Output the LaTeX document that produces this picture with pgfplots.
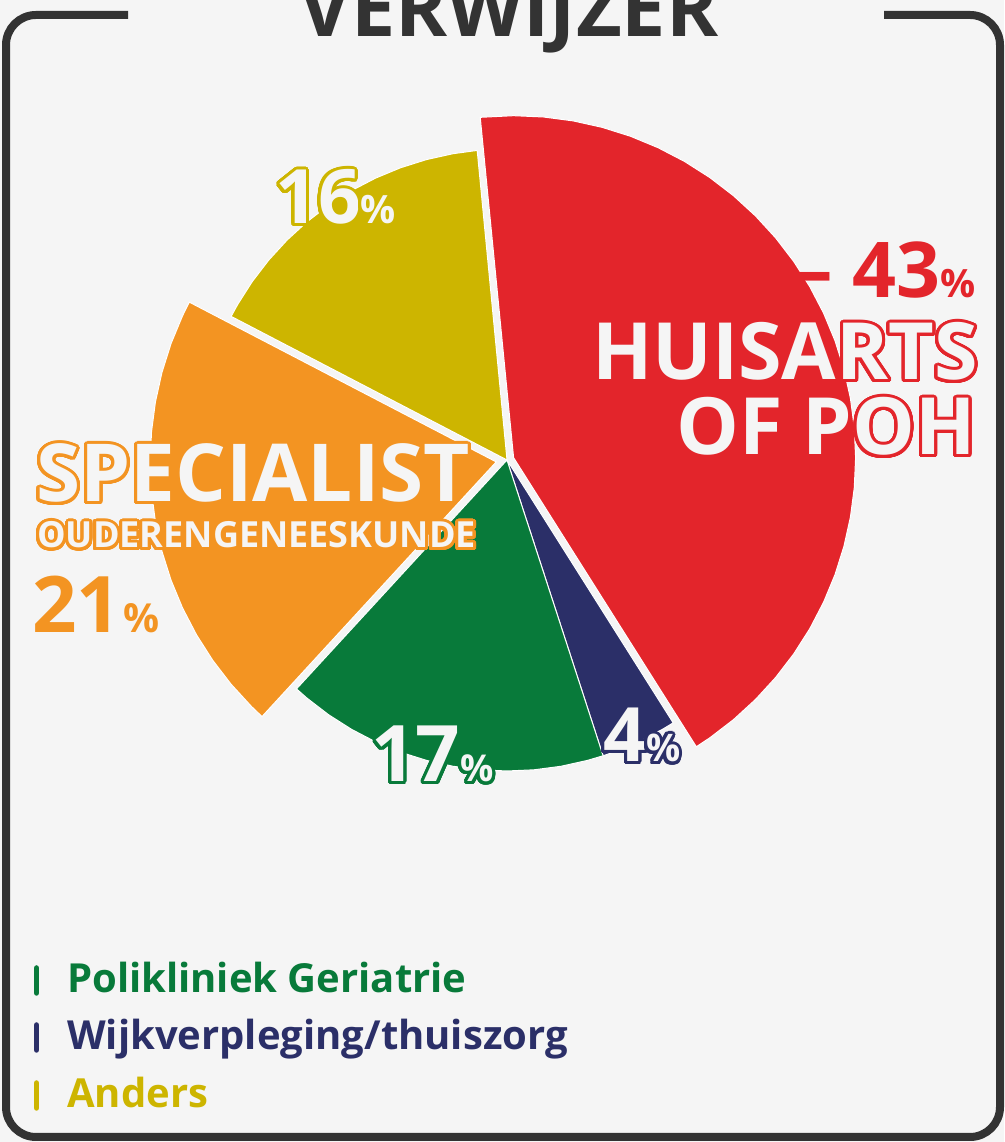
\documentclass[border=0pt]{standalone}
\usepackage{pgfplots}
\pgfplotsset{compat=1.18}
\usepackage{fontspec}
\setmainfont{Open Sans}
\usepackage{contour}
\contournumber{48}
\contourlength{3pt}
\definecolor{cred}{HTML}{E3252B}
\definecolor{cnavy}{HTML}{2B2F68}
\definecolor{cgreen}{HTML}{087A3A}
\definecolor{corange}{HTML}{F39422}
\definecolor{cyellow}{HTML}{CDB500}
\definecolor{bgc}{HTML}{F5F5F5}
\definecolor{frame}{HTML}{333333}
\newcommand{\fs}[1]{\fontsize{#1}{#1}\selectfont}
\begin{document}
\begin{tikzpicture}
\fill[bgc] (0,0) rectangle (1004pt,1142pt);
\begin{axis}[at={(0,0)}, anchor=south west, hide axis, x=1pt, y=1pt,
  xmin=-507, xmax=497, ymin=-682, ymax=460, clip=false]
% shares (%): Huisarts 43, Wijkverpleging 4, Polikliniek 17, Specialist 21, Anders 16
\addplot[fill=cred, draw=white, line width=1pt, data cs=polar, xshift=6.6pt, yshift=2.3pt] coordinates {
(0,0) (95.6,342) (90,342) (85,342) (80,342) (75,342) (70,342) (65,342) (60,342) (55,342) (50,342) (45,342) (40,342) (35,342) (30,342) (25,342) (20,342) (15,342) (10,342) (5,342) (0,342) (-5,342) (-10,342) (-15,342) (-20,342) (-25,342) (-30,342) (-35,342) (-40,342) (-45,342) (-50,342) (-55,342) (-57.7,342)} -- cycle;
\addplot[fill=cnavy, draw=white, line width=1pt, data cs=polar] coordinates {
(0,0) (-57.7,311) (-60,311) (-65,311) (-70,311) (-72.0,311)} -- cycle;
\addplot[fill=cgreen, draw=white, line width=1pt, data cs=polar] coordinates {
(0,0) (-72.0,311) (-75,311) (-80,311) (-85,311) (-90,311) (-95,311) (-100,311) (-105,311) (-110,311) (-115,311) (-120,311) (-125,311) (-130,311) (-132.6,311)} -- cycle;
\addplot[fill=corange, draw=white, line width=1pt, data cs=polar, xshift=-10.8pt, yshift=-1.9pt] coordinates {
(0,0) (-132.6,346) (-135,346) (-140,346) (-145,346) (-150,346) (-155,346) (-160,346) (-165,346) (-170,346) (-175,346) (-180,346) (-185,346) (-190,346) (-195,346) (-200,346) (-205,346) (-207.5,346)} -- cycle;
\addplot[fill=cyellow, draw=white, line width=1pt, data cs=polar] coordinates {
(0,0) (-207.5,311) (-210,311) (-215,311) (-220,311) (-225,311) (-230,311) (-235,311) (-240,311) (-245,311) (-250,311) (-255,311) (-260,311) (-264.5,311)} -- cycle;
\end{axis}
\begin{scope}[yshift=1142pt, x=1pt, y=-1pt]
% frame
\draw[frame, line width=8pt, rounded corners=30pt] (128,15) -- (6,15) -- (6,1137) -- (1000,1137) -- (1000,15) -- (884,15);
\node[anchor=base, inner sep=0, text=frame] at (509,37) {\fs{79}\bfseries VERWIJZER};
% labels
\node[anchor=base east, inner sep=0, text=cred] at (976,298) {\bfseries\fs{77}–\ 43\fs{39}\%};
\node[anchor=base east, inner sep=0] at (978,380) {\bfseries\fs{79}\color{bgc}\contour{cred}{HUISARTS}};
\node[anchor=base east, inner sep=0] at (976,455) {\bfseries\fs{79}\color{bgc}\contour{cred}{OF POH}};
\node[anchor=base west, inner sep=0] at (36,502) {\bfseries\fs{80}\color{bgc}\contour{corange}{SPECIALIST}};
\node[anchor=base west, inner sep=0] at (37,548) {\bfseries\fs{36}\color{bgc}\contour{corange}{OUDERENGENEESKUNDE}};
\node[anchor=base west, inner sep=0, text=corange] at (32,633) {\bfseries\fs{78}21\kern2pt\fs{40}\%};
\node[anchor=base west, inner sep=0] at (275,224) {\bfseries\color{bgc}\fs{75}\contour{cyellow}{16}\fs{39}\contour{cyellow}{\%}};
\node[anchor=base west, inner sep=0] at (371,782) {\bfseries\color{bgc}\fs{78}\contour{cgreen}{17}\fs{37}\contour{cgreen}{\%}};
\node[anchor=base west, inner sep=0] at (603,762) {\bfseries\color{bgc}\fs{75}\contour{cnavy}{4}\fs{38}\contour{cnavy}{\%}};
% legend
\draw[cgreen, line width=5.5pt, line cap=round] (36.5,968) -- (36.5,993);
\node[anchor=base west, inner sep=0, text=cgreen] at (67,993) {\bfseries\fs{40}Polikliniek Geriatrie};
\draw[cnavy, line width=5.5pt, line cap=round] (36.5,1025) -- (36.5,1050);
\node[anchor=base west, inner sep=0, text=cnavy] at (67,1050) {\bfseries\fs{40}Wijkverpleging/thuiszorg};
\draw[cyellow, line width=5.5pt, line cap=round] (36.5,1083) -- (36.5,1108);
\node[anchor=base west, inner sep=0, text=cyellow] at (67,1108) {\bfseries\fs{40}Anders};
\end{scope}
\pgfresetboundingbox
\path[use as bounding box] (0,0) rectangle (1004pt,1142pt);
\end{tikzpicture}
\end{document}
